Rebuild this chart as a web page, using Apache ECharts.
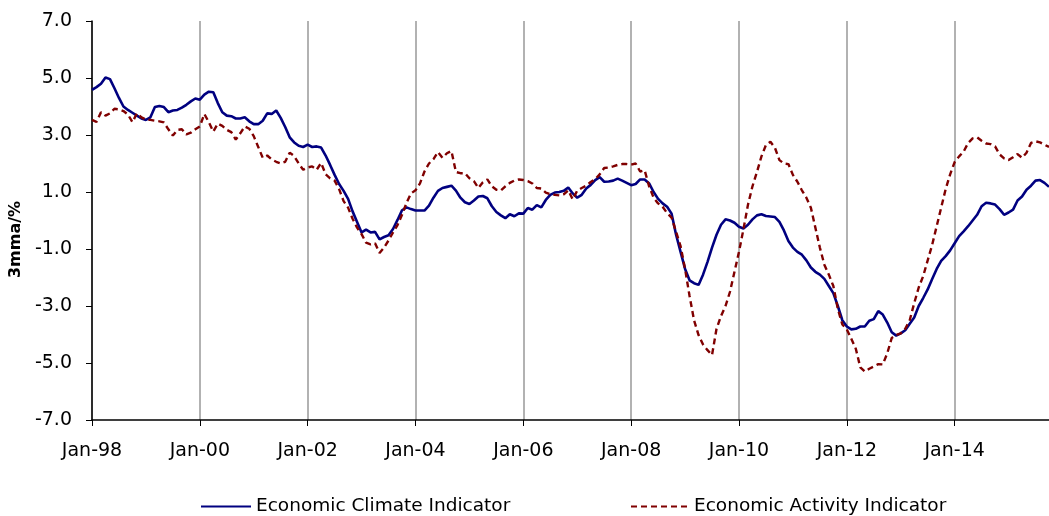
<!DOCTYPE html>
<html>
<head>
<meta charset="utf-8">
<script src="https://cdn.jsdelivr.net/npm/echarts@6/dist/echarts.min.js"></script>
<style>
  html, body { margin: 0; padding: 0; background: #fff; }
  #chart { width: 1049px; height: 516px; }
</style>
</head>
<body>
<div id="chart"></div>
<script>
// month labels Jan-98 .. Oct-15
var monthNames = ['Jan','Feb','Mar','Apr','May','Jun','Jul','Aug','Sep','Oct','Nov','Dec'];
var firstYear = 1998, lastYear = 2015, lastMonth = 10;
var categories = [];
for (var y = firstYear; y <= lastYear; y++) {
    for (var m = 0; m < 12; m++) {
        if (y === lastYear && m >= lastMonth) break;
        categories.push(monthNames[m] + '-' + String(y).slice(2));
    }
}

var yTicks = [-7, -5, -3, -1, 1, 3, 5, 7];

// Economic Climate Indicator (3mma, %)
var climate = [
    4.58, 4.68, 4.80, 5.02, 4.96, 4.64, 4.30, 4.00, 3.88, 3.78, 3.68, 3.58,
    3.53, 3.62, 3.98, 4.02, 3.98, 3.80, 3.86, 3.88, 3.96, 4.06, 4.18, 4.28,
    4.24, 4.42, 4.52, 4.50, 4.12, 3.80, 3.68, 3.66, 3.58, 3.58, 3.62, 3.48,
    3.38, 3.38, 3.50, 3.76, 3.74, 3.86, 3.60, 3.28, 2.92, 2.74, 2.62, 2.58,
    2.66, 2.58, 2.60, 2.56, 2.28, 1.95, 1.60, 1.28, 1.04, 0.76, 0.32, -0.05,
    -0.42, -0.32, -0.42, -0.40, -0.66, -0.58, -0.52, -0.30, 0.02, 0.36, 0.46, 0.40,
    0.35, 0.35, 0.35, 0.52, 0.80, 1.04, 1.14, 1.18, 1.22, 1.05, 0.80, 0.64,
    0.58, 0.70, 0.84, 0.86, 0.78, 0.50, 0.30, 0.18, 0.08, 0.22, 0.15, 0.25,
    0.24, 0.44, 0.38, 0.54, 0.46, 0.72, 0.90, 0.98, 1.00, 1.04, 1.16, 0.95,
    0.80, 0.90, 1.12, 1.25, 1.42, 1.52, 1.36, 1.37, 1.40, 1.47, 1.40, 1.32,
    1.24, 1.28, 1.44, 1.44, 1.30, 1.00, 0.76, 0.60, 0.48, 0.24, -0.50, -1.10,
    -1.70, -2.10, -2.20, -2.26, -1.90, -1.45, -0.95, -0.50, -0.15, 0.04, 0.00, -0.08,
    -0.22, -0.28, -0.15, 0.04, 0.18, 0.22, 0.16, 0.14, 0.12, -0.05, -0.35, -0.72,
    -0.95, -1.10, -1.20, -1.40, -1.65, -1.80, -1.90, -2.05, -2.30, -2.55, -3.00, -3.50,
    -3.72, -3.82, -3.80, -3.72, -3.72, -3.52, -3.46, -3.18, -3.30, -3.58, -3.92, -4.04,
    -3.96, -3.85, -3.62, -3.40, -3.00, -2.72, -2.42, -2.05, -1.70, -1.42, -1.25, -1.05,
    -0.80, -0.55, -0.38, -0.20, 0.00, 0.20, 0.50, 0.62, 0.60, 0.56, 0.40, 0.20,
    0.28, 0.38, 0.70, 0.84, 1.08, 1.22, 1.40, 1.42, 1.32, 1.18
];

// Economic Activity Indicator (3mma, %)
var activity = [
    3.53, 3.46, 3.80, 3.68, 3.76, 3.92, 3.90, 3.84, 3.72, 3.45, 3.76, 3.62,
    3.54, 3.53, 3.50, 3.48, 3.44, 3.20, 2.98, 3.18, 3.20, 3.02, 3.08, 3.20,
    3.30, 3.74, 3.45, 3.12, 3.40, 3.32, 3.18, 3.10, 2.84, 3.06, 3.30, 3.22,
    2.96, 2.58, 2.20, 2.28, 2.14, 2.06, 2.00, 2.06, 2.38, 2.26, 2.00, 1.78,
    1.86, 1.90, 1.78, 2.02, 1.62, 1.48, 1.40, 1.10, 0.68, 0.45, 0.06, -0.25,
    -0.48, -0.78, -0.84, -0.80, -1.14, -0.95, -0.70, -0.42, -0.16, 0.20, 0.62, 0.95,
    1.06, 1.30, 1.72, 2.00, 2.15, 2.40, 2.20, 2.36, 2.44, 1.70, 1.66, 1.66,
    1.48, 1.38, 1.14, 1.34, 1.44, 1.20, 1.08, 1.05, 1.20, 1.32, 1.40, 1.44,
    1.42, 1.38, 1.30, 1.14, 1.12, 0.98, 0.92, 0.90, 0.88, 0.92, 1.06, 0.74,
    1.05, 1.14, 1.22, 1.35, 1.45, 1.62, 1.84, 1.86, 1.90, 1.95, 1.98, 1.98,
    1.96, 2.00, 1.72, 1.76, 1.20, 0.80, 0.60, 0.48, 0.26, 0.10, -0.40, -0.90,
    -1.70, -2.65, -3.50, -4.02, -4.35, -4.55, -4.72, -3.80, -3.35, -3.00, -2.50, -1.80,
    -1.10, -0.30, 0.55, 1.20, 1.70, 2.25, 2.65, 2.76, 2.55, 2.12, 2.00, 1.98,
    1.60, 1.36, 1.06, 0.80, 0.45, -0.25, -0.95, -1.55, -1.90, -2.30, -3.10, -3.65,
    -3.82, -4.15, -4.50, -5.15, -5.30, -5.20, -5.12, -5.04, -5.05, -4.66, -4.12, -4.02,
    -3.96, -3.80, -3.50, -2.90, -2.35, -1.95, -1.40, -0.85, -0.20, 0.45, 1.10, 1.62,
    2.05, 2.25, 2.42, 2.72, 2.88, 2.92, 2.80, 2.70, 2.68, 2.60, 2.32, 2.18,
    2.12, 2.22, 2.33, 2.20, 2.38, 2.72, 2.78, 2.74, 2.66, 2.58
];

var font = 'DejaVu Sans';
var everyTwoYears = function (i) { return i % 24 === 0; };

var chart = echarts.init(document.getElementById('chart'));
var option = {
    backgroundColor: '#fff',
    animation: false,
    textStyle: { fontFamily: font },
    grid: { left: 92, right: 0, top: 21, bottom: 96 },
    legend: [
        {
            left: 200, top: 497, padding: 0,
            itemWidth: 50, itemHeight: 18, itemGap: 5,
            itemStyle: { opacity: 0 },
            textStyle: { fontFamily: font, fontSize: 18.5, color: '#000' },
            data: ['Economic Climate Indicator']
        },
        {
            left: 630, top: 497, padding: 0,
            itemWidth: 58, itemHeight: 18, itemGap: 5,
            itemStyle: { opacity: 0 },
            textStyle: { fontFamily: font, fontSize: 18.5, color: '#000' },
            data: ['Economic Activity Indicator']
        }
    ],
    xAxis: {
        type: 'category',
        boundaryGap: false,
        data: categories,
        axisLine: { onZero: false, lineStyle: { color: '#000', width: 1.5 } },
        axisTick: { show: true, interval: everyTwoYears, length: 6, lineStyle: { color: '#000' } },
        axisLabel: {
            interval: everyTwoYears,
            color: '#000', fontSize: 19, margin: 22
        },
        splitLine: { show: true, interval: everyTwoYears, lineStyle: { color: '#999', width: 1.5 } }
    },
    yAxis: {
        type: 'value',
        min: yTicks[0], max: yTicks[yTicks.length - 1], interval: 2,
        name: '3mma/%',
        nameLocation: 'middle',
        nameGap: 64,
        nameTextStyle: {
            fontFamily: font, fontSize: 16, fontWeight: 'bold', color: '#000',
            padding: [0, 38, 0, 0]
        },
        axisLine: { show: true, lineStyle: { color: '#000', width: 1.5 } },
        axisTick: { show: true, length: 6, lineStyle: { color: '#000' } },
        axisLabel: {
            color: '#000', fontSize: 19, margin: 20,
            formatter: function (v) { return v.toFixed(1); }
        },
        splitLine: { show: false }
    },
    series: [
        {
            name: 'Economic Climate Indicator',
            type: 'line',
            data: climate,
            symbol: 'none',
            lineStyle: { color: '#000080', width: 2.6 },
            itemStyle: { color: '#000080' }
        },
        {
            name: 'Economic Activity Indicator',
            type: 'line',
            data: activity,
            symbol: 'none',
            lineStyle: { color: '#800000', width: 2.4, type: [6, 4] },
            itemStyle: { color: '#800000' }
        }
    ]
};
chart.setOption(option);
window.onresize = chart.resize;
</script>
</body>
</html>
